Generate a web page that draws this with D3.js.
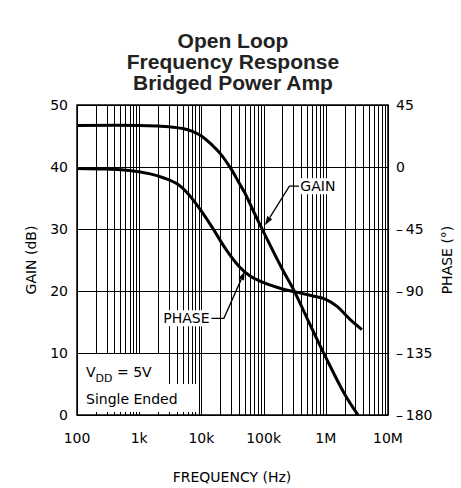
<!DOCTYPE html>
<html><head><meta charset="utf-8">
<script src="https://cdn.jsdelivr.net/npm/d3@7"></script>
<style>body{margin:0;background:#fff}</style>
</head><body>
<script>
const titleLines = ["Open Loop", "Frequency Response", "Bridged Power Amp"];
const freqTicks = [100, 1e3, 1e4, 1e5, 1e6, 1e7];
const freqTickLabels = ["100", "1k", "10k", "100k", "1M", "10M"];
const gainTicks = [0, 10, 20, 30, 40, 50];
const phaseTicks = [-180, -135, -90, -45, 0, 45];
const gainFreq = [100, 1e3, 2e3, 3e3, 5e3, 7e3, 1e4, 1.5e4, 2e4, 3e4, 4e4, 5e4, 7e4, 1e5, 2e5, 3e5, 5e5, 1e6, 2e6, 3.3e6];
const gainDb   = [46.7, 46.7, 46.6, 46.5, 46.2, 45.8, 45.0, 43.5, 42.2, 39.7, 37.5, 35.8, 32.7, 29.5, 23.5, 20.3, 15.6, 9.3, 3.4, 0];
const phaseFreq = [100, 300, 700, 1.5e3, 2.5e3, 4e3, 6e3, 1e4, 1.5e4, 2.5e4, 4e4, 6e4, 1e5, 2e5, 3.5e5, 6e5, 1e6, 1.5e6, 2.5e6, 3.8e6];
const phaseDeg  = [-1, -1.5, -2.5, -5, -8, -12, -19, -32, -44, -60, -72, -79, -84, -88.5, -91, -93.5, -96, -101, -111, -118];

const W = 461, H = 488;
const svg = d3.select("body").append("svg").attr("width", W).attr("height", H);
const x = d3.scaleLog().domain([100, 1e7]).range([77, 388]);
const y = d3.scaleLinear().domain([0, 50]).range([415, 105]);
const yP = d3.scaleLinear().domain([-180, 45]).range([415, 105]);
const FONT = "DejaVu Sans";

// title
svg.append("g").selectAll("text").data(titleLines).join("text")
  .attr("x", 233).attr("y", (d, i) => 48 + i * 21)
  .attr("text-anchor", "middle").attr("font-family", "Liberation Sans, Arial").attr("font-weight", "bold")
  .attr("font-size", 21).attr("fill", "#222").text(d => d);

// grid
const minor = [];
for (let dec = 100; dec < 1e7; dec *= 10) for (let k = 1; k <= 9; k++) minor.push(dec * k);
minor.push(1e7);
const grid = svg.append("g").attr("stroke", "#000").attr("stroke-width", 1);
grid.selectAll(".v").data(minor).join("line").attr("class", "v")
  .attr("x1", d => Math.round(x(d)) + 0.5).attr("x2", d => Math.round(x(d)) + 0.5)
  .attr("y1", y(50)).attr("y2", y(0));
grid.selectAll(".h").data(gainTicks).join("line").attr("class", "h")
  .attr("x1", x(100)).attr("x2", x(1e7))
  .attr("y1", d => Math.round(y(d)) + 0.5).attr("y2", d => Math.round(y(d)) + 0.5);

const ann = svg.append("g");
// V_DD box (white background masking grid)
ann.append("rect").attr("x", x(100) + 1).attr("y", y(10) + 1).attr("width", x(2900) - x(100) - 1).attr("height", y(5) - y(10) + 2).attr("fill", "#fff");
ann.append("rect").attr("x", x(100) + 1).attr("y", y(5)).attr("width", x(8700) - x(100) - 1).attr("height", y(0) - y(5)).attr("fill", "#fff");
// bottom minor ticks
svg.append("g").selectAll("line").data(minor).join("line")
  .attr("x1", d => Math.round(x(d)) + 0.5).attr("x2", d => Math.round(x(d)) + 0.5)
  .attr("y1", y(0)).attr("y2", y(0) - 3).attr("stroke", "#000");
const vdd = ann.append("text").attr("x", x(100) + 9).attr("y", y(0) - 38).attr("font-family", FONT).attr("font-size", 14);
vdd.append("tspan").text("V");
vdd.append("tspan").attr("font-size", 11).attr("dy", 5).text("DD");
vdd.append("tspan").attr("dy", -5).text(" = 5V");
ann.append("text").attr("x", x(100) + 9).attr("y", y(0) - 11).attr("font-family", FONT).attr("font-size", 14).text("Single Ended");

// border
svg.append("rect").attr("x", x(100)).attr("y", y(50)).attr("width", x(1e7) - x(100)).attr("height", y(0) - y(50))
  .attr("fill", "none").attr("stroke", "#000").attr("stroke-width", 1.5);

// curves
const line = d3.line().curve(d3.curveCatmullRom.alpha(0.5));
svg.append("path").attr("d", line(gainFreq.map((f, i) => [x(f), y(gainDb[i])])))
  .attr("fill", "none").attr("stroke", "#000").attr("stroke-width", 3);
svg.append("path").attr("d", line(phaseFreq.map((f, i) => [x(f), yP(phaseDeg[i])])))
  .attr("fill", "none").attr("stroke", "#000").attr("stroke-width", 3);

// annotations
function leader(pts, tip) {
  const p = pts.map(d => [x(d[0]), y(d[1])]);
  const t = [x(tip[0]), y(tip[1])];
  const last = p[p.length - 1];
  const ang = Math.atan2(t[1] - last[1], t[0] - last[0]);
  const L = 9, w = 3;
  const base = [t[0] - L * Math.cos(ang), t[1] - L * Math.sin(ang)];
  svg.append("path").attr("d", d3.line()([...p, base])).attr("fill", "none").attr("stroke", "#000").attr("stroke-width", 1.3);
  svg.append("path").attr("d", d3.line()([t,
    [base[0] + w * Math.sin(ang), base[1] - w * Math.cos(ang)],
    [base[0] - w * Math.sin(ang), base[1] + w * Math.cos(ang)]]) + "Z").attr("fill", "#000");
}
function labelBox(txt, fx, db, anchor) {
  const g = svg.append("g");
  const r = g.append("rect").attr("fill", "#fff");
  const t = g.append("text").attr("x", x(fx)).attr("y", y(db) + 5).attr("text-anchor", anchor)
    .attr("font-family", FONT).attr("font-size", 14).text(txt);
  const b = t.node().getBBox();
  r.attr("x", b.x - 2).attr("y", b.y).attr("width", b.width + 4).attr("height", b.height);
}
labelBox("GAIN", 3.9e5, 36.9, "start");
leader([[3.7e5, 36.9], [2.6e5, 36.9]], [1.05e5, 30.6]);
labelBox("PHASE", 1.35e4, 15.6, "end");
leader([[1.45e4, 15.6], [2.3e4, 15.6]], [5.0e4, 23.2]);

// axes labels
svg.append("g").selectAll("text").data(freqTicks).join("text")
  .attr("x", d => x(d)).attr("y", 443).attr("text-anchor", "middle")
  .attr("font-family", FONT).attr("font-size", 14).text((d, i) => freqTickLabels[i]);
svg.append("g").selectAll("text").data(gainTicks).join("text")
  .attr("x", 68).attr("y", d => y(d) + 5).attr("text-anchor", "end")
  .attr("font-family", FONT).attr("font-size", 14).text(d => d);
svg.append("g").selectAll("text").data(phaseTicks).join("text")
  .attr("x", 396).attr("y", d => yP(d) + 5).attr("text-anchor", "start")
  .attr("font-family", FONT).attr("font-size", 14).text(d => d < 0 ? "\u2013" + "\u2009" + Math.abs(d) : d);
svg.append("text").attr("x", 232).attr("y", 482).attr("text-anchor", "middle")
  .attr("font-family", FONT).attr("font-size", 14).text("FREQUENCY (Hz)");
svg.append("text").attr("transform", "translate(36,260) rotate(-90)").attr("text-anchor", "middle")
  .attr("font-family", FONT).attr("font-size", 14).text("GAIN (dB)");
svg.append("text").attr("transform", "translate(452,260) rotate(-90)").attr("text-anchor", "middle")
  .attr("font-family", FONT).attr("font-size", 14).text("PHASE (°)");
</script>
</body></html>
